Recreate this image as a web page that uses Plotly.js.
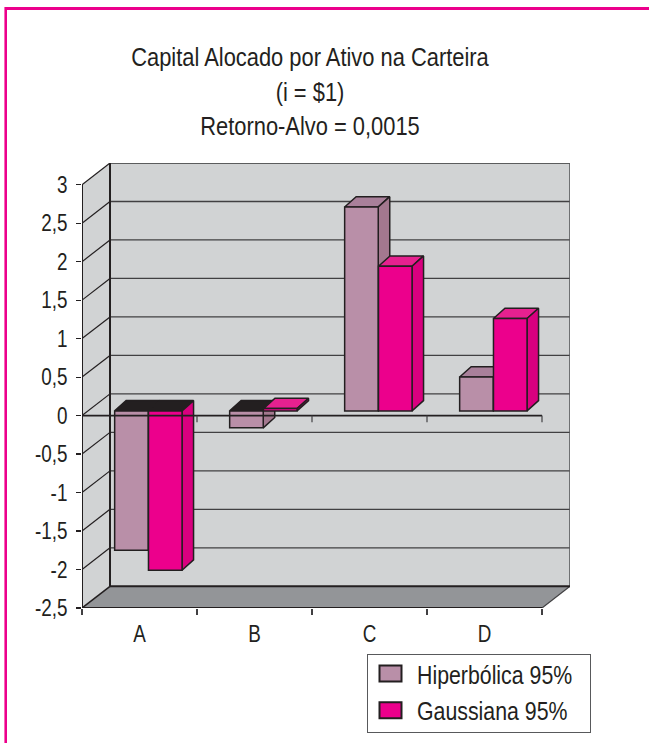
<!DOCTYPE html>
<html><head><meta charset="utf-8">
<script src="https://cdn.plot.ly/plotly-3.0.1.min.js"></script>
<style>
html,body{margin:0;padding:0;background:#fff;overflow:hidden;width:649px;height:743px}
#c{position:absolute;left:0;top:0;width:649px;height:755px}
#ft{position:absolute;left:5px;top:7px;right:0;height:3px;background:#ec008c}
#fl{position:absolute;left:5px;top:7px;height:736px;width:2px;background:#ec008c;box-shadow:-1px 0 0 #f768b8}
</style></head><body>
<div id="c"></div><div id="ft"></div><div id="fl"></div>
<script>
const categories = ['A','B','C','D'];
const hiperbolica = [-1.81,-0.22,2.65,0.44];
const gaussiana = [-2.07,0.03,1.88,1.20];
const yTickVals = [3,2.5,2,1.5,1,0.5,0,-0.5,-1,-1.5,-2,-2.5];
const yTickText = ['3','2,5','2','1,5','1','0,5','0','-0,5','-1','-1,5','-2','-2,5'];
const seriesNames = ['Hiperbólica 95%','Gaussiana 95%'];
const titleLines = ['Capital Alocado por Ativo na Carteira','(i = $1)','Retorno-Alvo = 0,0015'];

const FONT='"Liberation Sans",Arial,sans-serif', INK='#231f20', NARROW=0.82;
const DX=0.2435, DY=0.282, YMIN=-2.5, YMAX=3, XN=categories.length;
const BW=0.292, HOFF=0.43, GOFF=0.724, BASE=0.061, BDX=0.1, BDY=0.134;
const traces=[];
function poly(x,y,fill,line,w,z){traces.push({type:'scatter',mode:w?'lines':'none',x:x,y:y,fill:'toself',fillcolor:fill,
  line:{color:line||INK,width:w||0},showlegend:false,hoverinfo:'skip',cliponaxis:false,zorder:z});}
function seg(x,y,color,w,z){traces.push({type:'scatter',mode:'lines',x:x,y:y,line:{color:color,width:w},showlegend:false,hoverinfo:'skip',cliponaxis:false,zorder:z});}

poly([DX,XN+DX,XN+DX,DX,DX],[YMIN+DY,YMIN+DY,YMAX+DY,YMAX+DY,YMIN+DY],'#d1d3d4',null,0,0);
poly([0,DX,DX,0,0],[YMIN,YMIN+DY,YMAX+DY,YMAX,YMIN],'#d1d3d4',null,0,0);
poly([0,XN,XN+DX,DX,0],[YMIN,YMIN,YMIN+DY,YMIN+DY,YMIN],'#939598',null,0,0);
yTickVals.forEach(v=>{
  if(v>YMIN) seg([DX,XN+DX],[v+DY,v+DY],'#414042',1.3,0);
  if(v>YMIN) seg([0,DX],[v,v+DY],INK,1.2,0);
});
seg([0,DX],[YMIN,YMIN+DY],INK,1.5,0);
seg([XN,XN+DX],[YMIN,YMIN+DY],'#414042',1.2,0);
seg([XN+DX,XN+DX,DX],[YMIN+DY,YMAX+DY,YMAX+DY],'#58595b',1.6,0);
seg([DX,DX],[YMIN+DY,YMAX+DY],INK,2,0);
seg([DX,XN+DX],[YMIN+DY,YMIN+DY],INK,2,0);
seg([0,0],[YMIN,YMAX],INK,2,0);
seg([0,XN],[YMIN,YMIN],INK,2,0);

function faces(vals,off,cTopPos,cSide,z){
  vals.forEach((v,i)=>{
    const L=i+off-BW/2,R=i+off+BW/2,t=BASE+Math.max(v,0),e=BASE+v;
    poly([L,R,R+BDX,L+BDX,L],[t,t,t+BDY,t+BDY,t],v<0?INK:cTopPos,INK,1.5,z);
    poly([R,R,R+BDX,R+BDX,R],[BASE,e,e+BDY,BASE+BDY,BASE],cSide,INK,1.5,z);
  });
}
function front(vals,off,color,name,z){
  traces.push({type:'bar',name:name,legendgroup:name,x:vals.map((_,i)=>i+off),y:vals,base:BASE,width:BW,
    marker:{color:color,line:{color:INK,width:1.5}},hoverinfo:'skip',cliponaxis:false,zorder:z});
}
faces(hiperbolica,HOFF,'#a9809a','#a3788f',1);
front(hiperbolica,HOFF,'#b98fa8',seriesNames[0],2);
faces(gaussiana,GOFF,'#e6218f','#d9007f',3);
front(gaussiana,GOFF,'#ec008c',seriesNames[1],4);

seg([0,XN],[0,0],INK,1.8,5);
for(let i=1;i<=XN;i++) seg([i,i],[0,-0.085],'#414042',1.2,5);

const layout={
  width:649,height:755,showlegend:true,barmode:'overlay',
  margin:{l:82,r:79,t:163,b:147,pad:0},
  paper_bgcolor:'#fff',plot_bgcolor:'rgba(0,0,0,0)',
  font:{family:FONT,color:INK,size:23},
  title:{text:titleLines.join('<br>'),font:{family:FONT,size:26.7,color:INK},x:310/649,xanchor:'center',
    xref:'container',yref:'container',y:1-66/755,yanchor:'top'},
  xaxis:{range:[0,488/115],tickmode:'array',tickvals:categories.map((_,i)=>i+0.5),ticktext:categories,ticks:'',
    ticklabelstandoff:10,showline:false,showgrid:false,zeroline:false,tickfont:{size:23,family:FONT,color:INK},
    minor:{tickmode:'array',tickvals:[0,1,2,3,4],ticks:'outside',ticklen:6,tickwidth:1.2,tickcolor:'#414042',showgrid:false}},
  yaxis:{range:[YMIN,YMAX+DY],tickmode:'array',tickvals:yTickVals,ticktext:yTickText,ticks:'outside',ticklen:5,tickwidth:1.2,
    tickcolor:INK,ticklabelstandoff:4,showline:false,showgrid:false,zeroline:false,tickfont:{size:23,family:FONT,color:INK}},
  legend:{xref:'paper',yref:'paper',x:(367-82)/488,y:(608-649)/445,xanchor:'left',yanchor:'top',bgcolor:'#fff',
    bordercolor:'#58595b',borderwidth:1,font:{family:FONT,size:26,color:INK},itemwidth:39,tracegroupgap:5,
    itemclick:false,itemdoubleclick:false,traceorder:'normal'}
};
function condense(){
  // the reference uses a condensed face: narrow each real text run horizontally
  document.querySelectorAll('#c .gtitle, #c .gtitle tspan, #c .xtick text, #c .ytick text, #c .legendtext').forEach(t=>{
    const hasLines=t.tagName==='text'&&t.querySelector('tspan');
    if(hasLines) return;
    t.setAttribute('textLength',(t.getComputedTextLength()*NARROW).toFixed(1));
    t.setAttribute('lengthAdjust','spacingAndGlyphs');
  });
  document.querySelectorAll('#c .legend .legendpoints path').forEach(p=>{p.setAttribute('d','M9,8H-13V-8H9Z');p.style.strokeWidth='2px';});
  const bg=document.querySelector('#c .legend rect.bg');
  if(bg){bg.setAttribute('width','223');bg.setAttribute('height','78');bg.setAttribute('y','5');}
}
Plotly.newPlot('c',traces,layout,{displayModeBar:false,staticPlot:true}).then(condense);
</script></body></html>
